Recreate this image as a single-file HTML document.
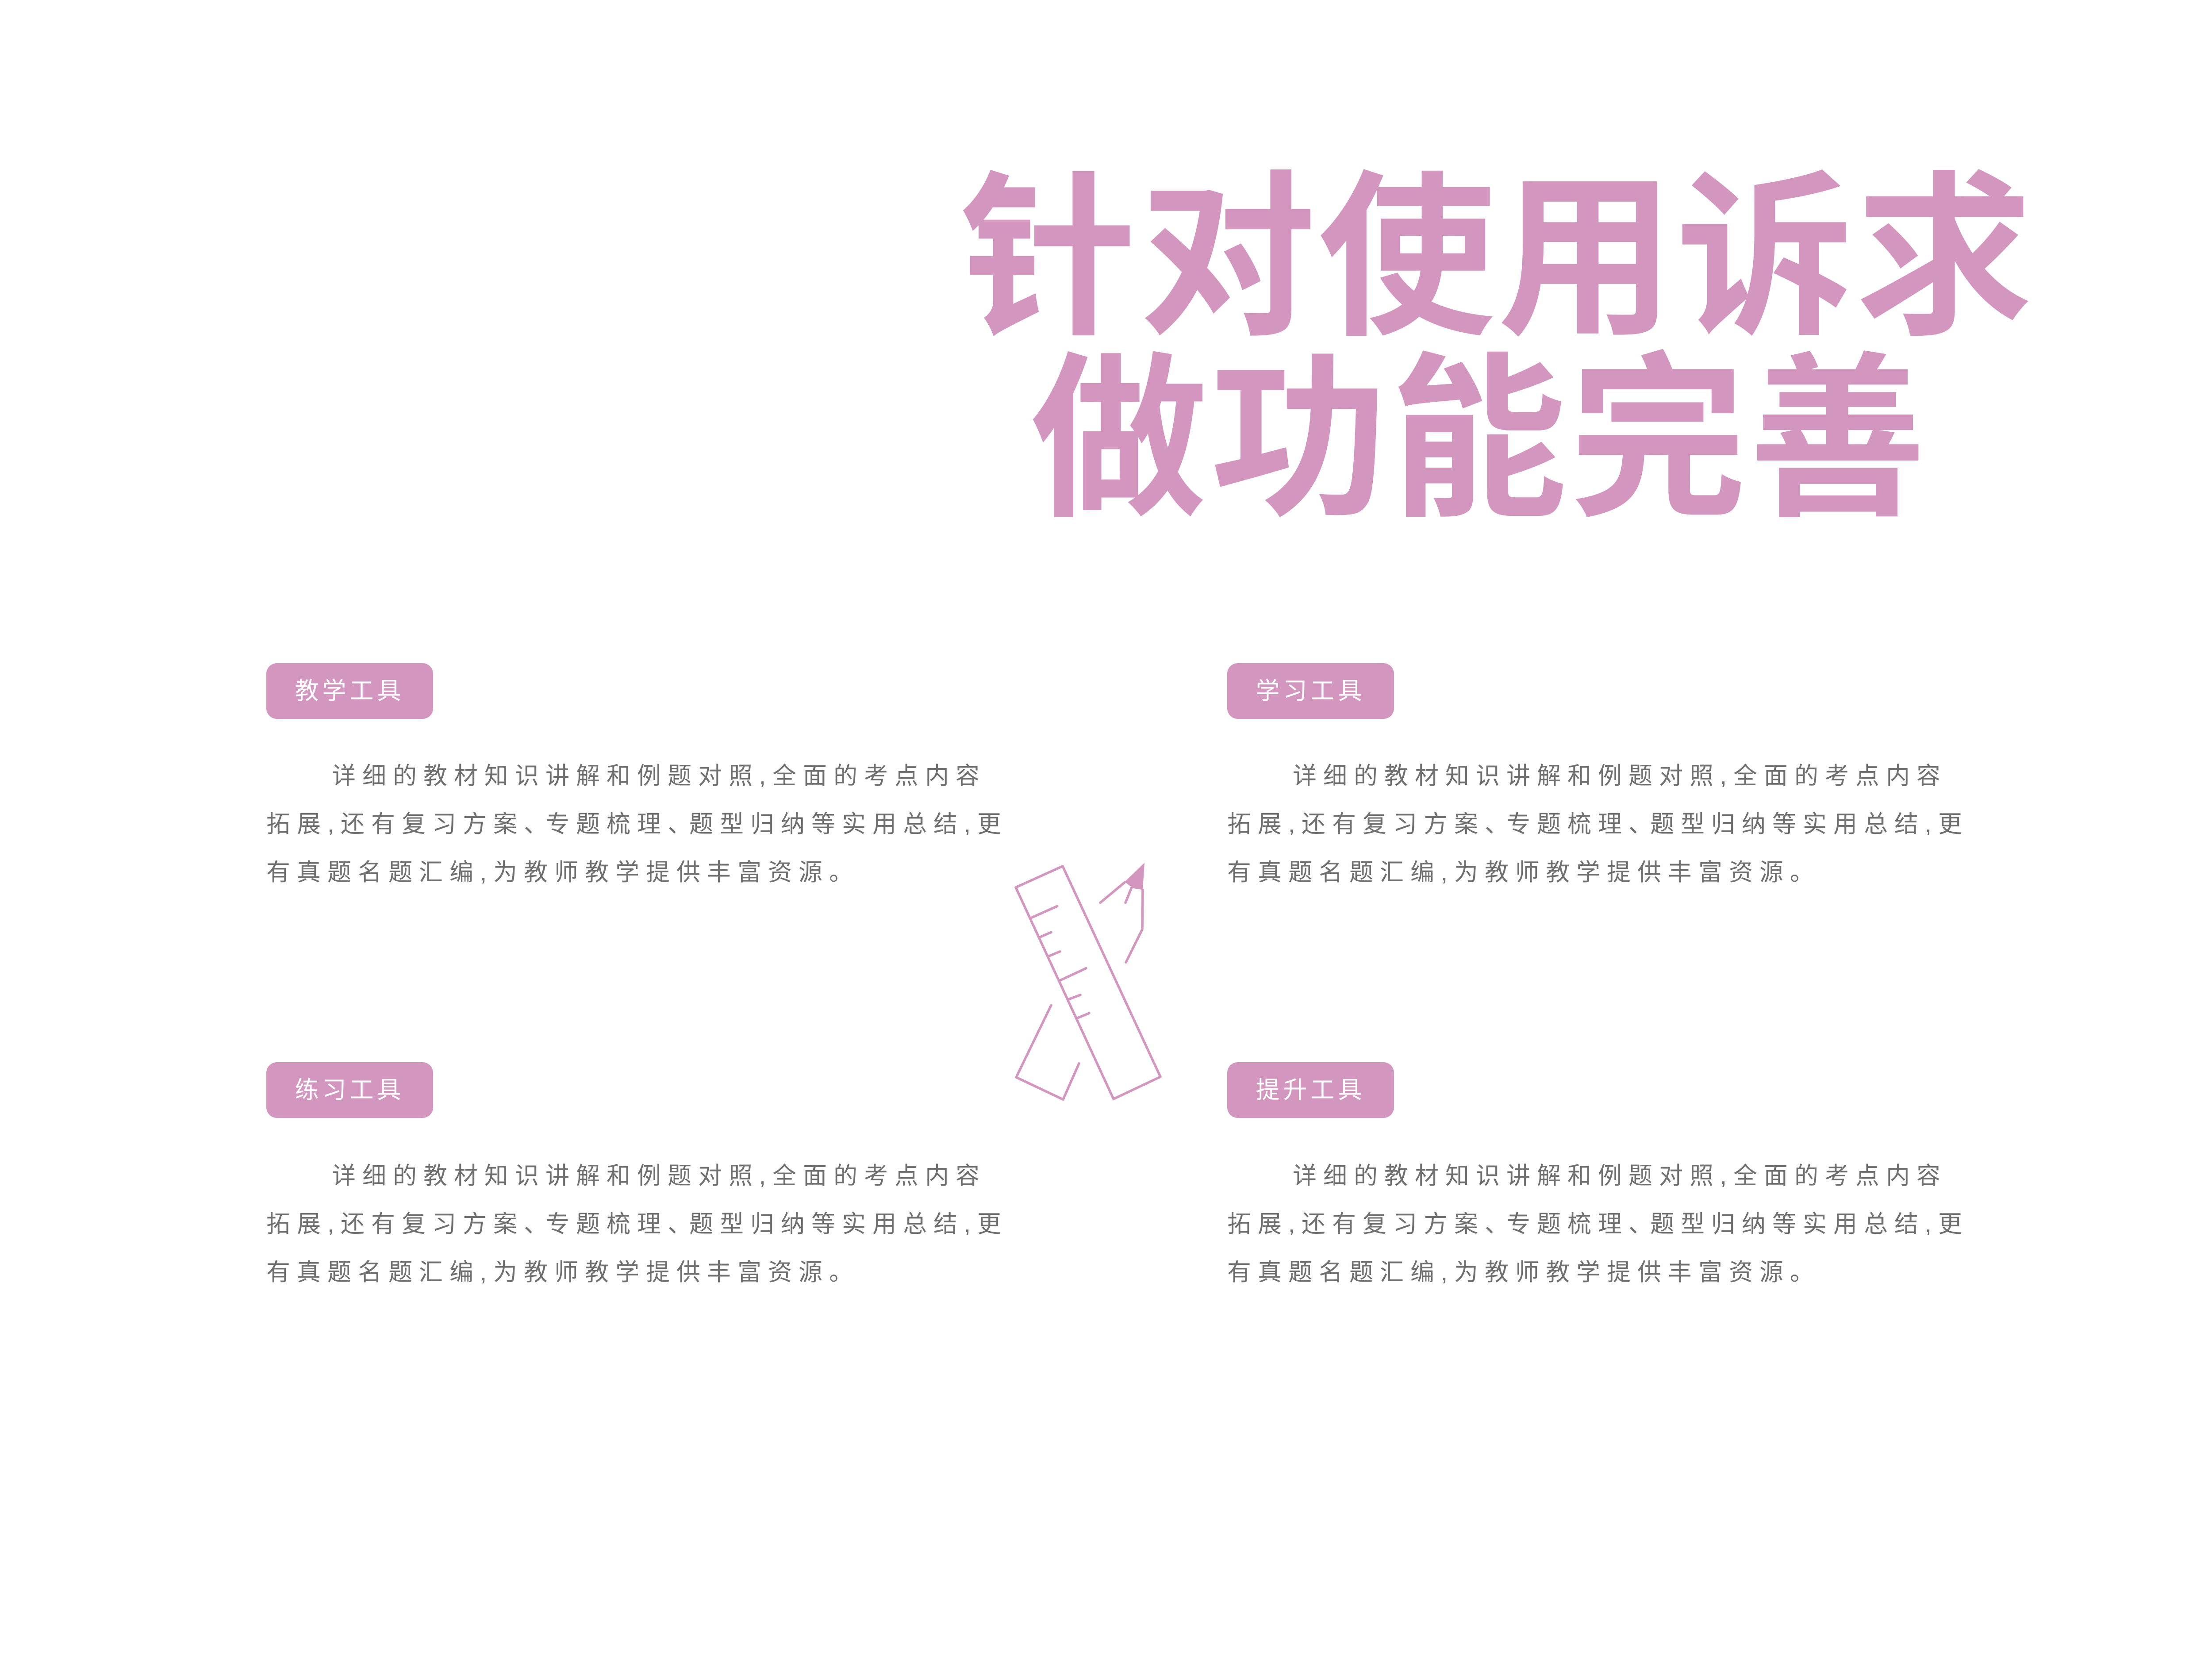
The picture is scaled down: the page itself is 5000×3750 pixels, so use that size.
<!DOCTYPE html>
<html><head><meta charset="utf-8"><style>
html,body{margin:0;padding:0;background:#fff;}
body{width:5000px;height:3750px;position:relative;overflow:hidden;font-family:"Liberation Sans","Noto Sans CJK SC",sans-serif;}
.title{position:absolute;color:#d396bf;font-family:"Noto Sans CJK SC","WenQuanYi Zen Hei",sans-serif;font-weight:700;font-size:400px;line-height:1;white-space:nowrap;}
.tag{position:absolute;width:377px;height:126px;background:#d396bf;border-radius:24px;color:#fff;font-size:54px;line-height:126px;text-align:center;letter-spacing:8px;font-family:"Liberation Sans","Noto Sans CJK SC",sans-serif;}
.txt{position:absolute;width:1800px;color:#6f6f6f;font-size:54px;line-height:109px;letter-spacing:15px;font-family:"Liberation Sans","Noto Sans CJK SC",sans-serif;white-space:nowrap;}
.d{letter-spacing:-5px;}
</style></head><body>
<div class="title" style="left:2170px;top:350px;letter-spacing:5px;">针对使用诉求</div>
<div class="title" style="left:2330px;top:760px;letter-spacing:6px;">做功能完善</div>

<div class="tag" style="left:602px;top:1499px;">教学工具</div>
<div class="txt" style="left:602px;top:1700px;"><span style="padding-left:148px"></span>详细的教材知识讲解和例题对照,全面的考点内容<br>拓展,还有复习方案<span class="d">、</span>专题梳理<span class="d">、</span>题型归纳等实用总结,更<br>有真题名题汇编,为教师教学提供丰富资源。</div>

<div class="tag" style="left:2774px;top:1499px;">学习工具</div>
<div class="txt" style="left:2774px;top:1700px;"><span style="padding-left:148px"></span>详细的教材知识讲解和例题对照,全面的考点内容<br>拓展,还有复习方案<span class="d">、</span>专题梳理<span class="d">、</span>题型归纳等实用总结,更<br>有真题名题汇编,为教师教学提供丰富资源。</div>

<div class="tag" style="left:602px;top:2401px;">练习工具</div>
<div class="txt" style="left:602px;top:2604px;"><span style="padding-left:148px"></span>详细的教材知识讲解和例题对照,全面的考点内容<br>拓展,还有复习方案<span class="d">、</span>专题梳理<span class="d">、</span>题型归纳等实用总结,更<br>有真题名题汇编,为教师教学提供丰富资源。</div>

<div class="tag" style="left:2774px;top:2401px;">提升工具</div>
<div class="txt" style="left:2774px;top:2604px;"><span style="padding-left:148px"></span>详细的教材知识讲解和例题对照,全面的考点内容<br>拓展,还有复习方案<span class="d">、</span>专题梳理<span class="d">、</span>题型归纳等实用总结,更<br>有真题名题汇编,为教师教学提供丰富资源。</div>

<svg style="position:absolute;left:0;top:0" width="5000" height="3750" viewBox="0 0 5000 3750">
<g transform="translate(0,1930) scale(1,1.115) translate(0,-1930)">
<g fill="none" stroke="#d396bf" stroke-width="5.5" stroke-linecap="round" stroke-linejoin="round">
<polygon vector-effect="non-scaling-stroke" points="2296,1998 2402,1955 2623,2382 2517,2427"/>
<line vector-effect="non-scaling-stroke" x1="2330" y1="2060" x2="2390" y2="2036"/>
<line vector-effect="non-scaling-stroke" x1="2350" y1="2099" x2="2376" y2="2089"/>
<line vector-effect="non-scaling-stroke" x1="2369" y1="2138" x2="2396" y2="2128"/>
<line vector-effect="non-scaling-stroke" x1="2395" y1="2187" x2="2455" y2="2162"/>
<line vector-effect="non-scaling-stroke" x1="2415" y1="2225" x2="2442" y2="2216"/>
<line vector-effect="non-scaling-stroke" x1="2435" y1="2263" x2="2462" y2="2253"/>
<polyline vector-effect="non-scaling-stroke" points="2487,2029 2542,1988"/>
<polyline vector-effect="non-scaling-stroke" points="2558,1998 2544,2029"/>
<polyline vector-effect="non-scaling-stroke" points="2583,2003 2582,2083 2545,2150"/>
<polyline vector-effect="non-scaling-stroke" points="2376,2237 2297,2383 2403,2428 2439,2355"/>
</g>
<polygon points="2542,1987 2587,1948 2583,2003 2562,2000" fill="#d396bf"/>
</g>
</svg>
</body></html>
